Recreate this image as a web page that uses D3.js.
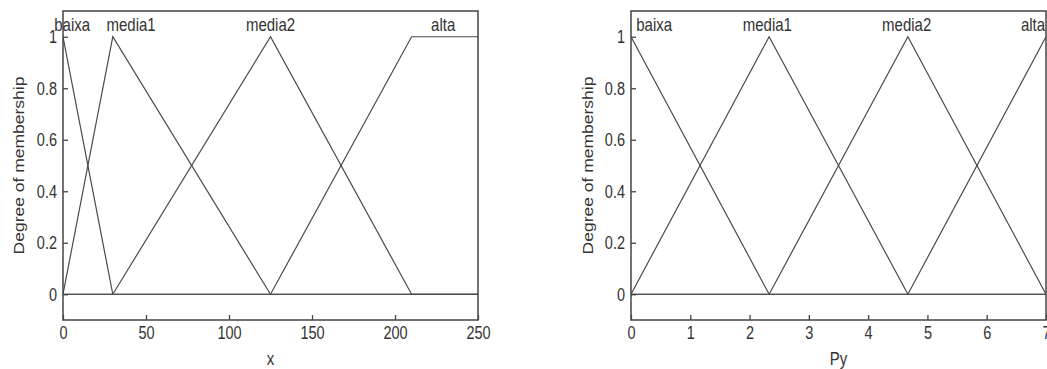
<!DOCTYPE html>
<html>
<head>
<meta charset="utf-8">
<script src="https://cdn.jsdelivr.net/npm/d3@7"></script>
<style>
  body { margin: 0; background: #fff; }
  svg text { font-family: "Liberation Sans", Arial, sans-serif; fill: #333; }
</style>
</head>
<body>
<div id="chart"></div>
<script>
// membership functions of x (vertices over the whole range, as plotmf draws them)
const x_names = ['baixa', 'media1', 'media2', 'alta'];
const x_mf_x = [
  [0, 30, 250],
  [0, 30, 125, 250],
  [0, 30, 125, 210, 250],
  [0, 125, 210, 250]
];
const x_mf_y = [
  [1, 0, 0],
  [0, 1, 0, 0],
  [0, 0, 1, 0, 0],
  [0, 0, 1, 1]
];
const x_label_pos = [5.5, 41, 125, 229];
const x_ticks = [0, 50, 100, 150, 200, 250];

// membership functions of Py
const py_names = ['baixa', 'media1', 'media2', 'alta'];
const py_mf_x = [
  [0, 2.33, 7],
  [0, 2.33, 4.67, 7],
  [0, 2.33, 4.67, 7],
  [0, 4.67, 7]
];
const py_mf_y = [
  [1, 0, 0],
  [0, 1, 0, 0],
  [0, 0, 1, 0],
  [0, 0, 1]
];
const py_label_pos = [0.39, 2.3, 4.65, 6.78];
const py_ticks = [0, 1, 2, 3, 4, 5, 6, 7];

const y_ticks = [0, 0.2, 0.4, 0.6, 0.8, 1];

const W = 1047, H = 369;
const TOP = 11, BOTTOM = 320;
const STRETCH = 1.25;   // the source picture is stretched vertically

const svg = d3.select('#chart')
  .append('svg')
  .attr('width', W)
  .attr('height', H);

function draw_mf_plot(left, right, x_domain, xt, names, mfx, mfy, label_pos, x_title, ylab_x, clip_id) {
  const x = d3.scaleLinear().domain(x_domain).range([left, right]);
  const y = d3.scaleLinear().domain([-0.1, 1.1]).range([BOTTOM, TOP]);

  svg.append('clipPath')
    .attr('id', clip_id)
    .append('rect')
    .attr('x', left).attr('y', TOP)
    .attr('width', right - left).attr('height', BOTTOM - TOP);

  // curves
  const line = d3.line().x(d => x(d[0])).y(d => y(d[1]));
  const g_lines = svg.append('g').attr('clip-path', `url(#${clip_id})`);
  for (let i = 0; i < names.length; i++) {
    const pts = mfx[i].map((v, j) => [v, mfy[i][j]]);
    g_lines.append('path')
      .datum(pts)
      .attr('d', line)
      .attr('fill', 'none')
      .attr('stroke', '#4a4a4a')
      .attr('stroke-width', 1.2);
  }

  // axes, ticks pointing inward like MATLAB
  const gx = svg.append('g')
    .attr('transform', `translate(0, ${BOTTOM})`)
    .call(d3.axisBottom(x).tickValues(xt).tickFormat(d3.format('d'))
      .tickSizeInner(-5).tickSizeOuter(0).tickPadding(5));
  gx.select('.domain').remove();
  gx.selectAll('.tick line').attr('stroke', '#444').attr('stroke-width', 1.3);
  gx.selectAll('text')
    .style('font-size', '14.5px')
    .attr('fill', '#333')
    .attr('transform', `scale(1, ${STRETCH})`);

  const gy = svg.append('g')
    .attr('transform', `translate(${left}, 0)`)
    .call(d3.axisLeft(y).tickValues(y_ticks).tickFormat(d => d === 0 || d === 1 ? d : d.toFixed(1))
      .tickSizeInner(-5).tickSizeOuter(0).tickPadding(6));
  gy.select('.domain').remove();
  gy.selectAll('.tick line').attr('stroke', '#444').attr('stroke-width', 1.3);
  gy.selectAll('text')
    .style('font-size', '14.5px')
    .attr('fill', '#333')
    .attr('transform', `scale(1, ${STRETCH})`);

  // box
  svg.append('rect')
    .attr('x', left).attr('y', TOP)
    .attr('width', right - left).attr('height', BOTTOM - TOP)
    .attr('fill', 'none')
    .attr('stroke', '#444')
    .attr('stroke-width', 1.5);

  // mf labels
  for (let i = 0; i < names.length; i++) {
    svg.append('text')
      .attr('transform', `translate(${x(label_pos[i])}, ${y(1.05)}) scale(1, ${STRETCH})`)
      .attr('text-anchor', 'middle')
      .attr('dy', '0.36em')
      .style('font-size', '15px')
      .text(names[i]);
  }

  // axis titles
  svg.append('text')
    .attr('transform', `translate(${(left + right) / 2}, 358) scale(1, ${STRETCH})`)
    .attr('text-anchor', 'middle')
    .attr('dy', '0.36em')
    .style('font-size', '15px')
    .text(x_title);

  svg.append('text')
    .attr('transform', `translate(${ylab_x}, ${(TOP + BOTTOM) / 2}) scale(1, ${STRETCH}) rotate(-90)`)
    .attr('text-anchor', 'middle')
    .attr('dy', '0.36em')
    .style('font-size', '14px')
    .text('Degree of membership');
}

draw_mf_plot(63, 478, [0, 250], x_ticks, x_names, x_mf_x, x_mf_y, x_label_pos, 'x', 19, 'clip-x');
draw_mf_plot(631, 1046, [0, 7], py_ticks, py_names, py_mf_x, py_mf_y, py_label_pos, 'Py', 588, 'clip-py');
</script>
</body>
</html>
